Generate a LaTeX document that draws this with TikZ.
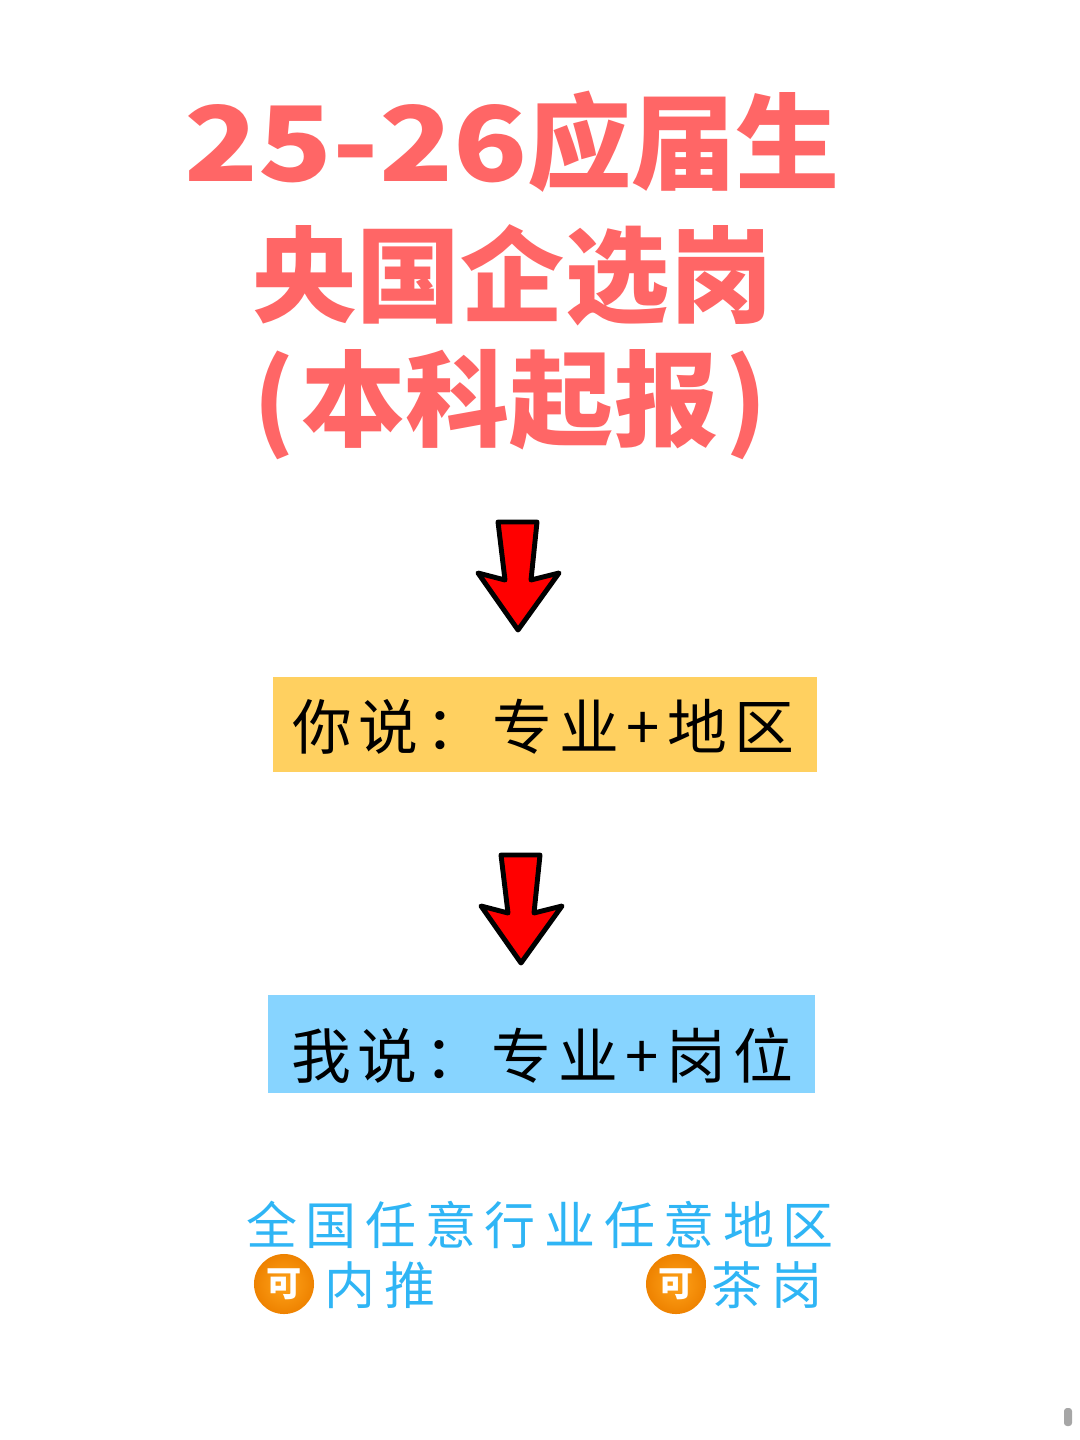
\documentclass[tikz,border=0pt]{standalone}
\usepackage{fontspec}
\setmainfont{Noto Sans CJK SC}
\newfontfamily\titlefont{Noto Sans CJK SC Black}
\newfontfamily\bodyfont[LetterSpace=12]{Noto Sans CJK SC}
\newfontfamily\notefont[LetterSpace=17]{Noto Sans CJK SC}
\definecolor{titlered}{HTML}{FF6666}
\definecolor{boxyellow}{HTML}{FFD060}
\definecolor{boxblue}{HTML}{87D4FF}
\definecolor{noteblue}{HTML}{2FB5F5}
\definecolor{badgecentre}{HTML}{FFA31A}
\definecolor{badgeedge}{HTML}{EE8200}
\tikzset{
    titleline/.style={text=titlered, inner sep=0pt, font=\titlefont\fontsize{29.6}{29.6}\selectfont},
    bodyline/.style={text=black, inner sep=0pt, font=\bodyfont\fontsize{17}{17}\selectfont},
    noteline/.style={text=noteblue, inner sep=0pt, font=\notefont\fontsize{14.5}{14.5}\selectfont},
    canbadge/.style={circle, minimum size=0.6cm, inner sep=0pt, text=white,
        inner color=badgecentre, outer color=badgeedge,
        font=\bfseries\fontsize{10}{10}\selectfont},
    redarrow/.pic={
        \draw[fill=red, line width=1.4pt, line join=round]
            (-20,-53) -- (19,-53) -- (13,5) -- (41,-2) -- (0,55)
            -- (-40,-2) -- (-13,5) -- cycle;
    }
}
\begin{document}
\begin{tikzpicture}[x=0.01cm, y=-0.01cm]
\useasboundingbox (0,0) rectangle (1080,1440);

\node[titleline] (title1) at (512,142) {\scalebox{1.17}[1]{25-26}应届生};
\node[titleline] (title2) at (513,275) {央国企选岗};
\node[titleline] (title3) at (510,405) {(\hspace{2pt}本科起报\hspace{2pt})};

\pic at (518,575) {redarrow};
\node[fill=boxyellow, minimum width=5.44cm, minimum height=0.95cm] (boxyou) at (545,724.5) {};
\node[bodyline] (textyou) at (543,727) {你说：专业+地区};

\pic at (521,908) {redarrow};
\node[fill=boxblue, minimum width=5.47cm, minimum height=0.98cm] (boxme) at (541.5,1044) {};
\node[bodyline] (textme) at (542,1056) {我说：专业+岗位};

\node[noteline] (notetop) at (540,1225) {全国任意行业任意地区};
\node[canbadge] (badgeleft) at (284,1284) {可};
\node[noteline, anchor=west] (noteleft) at (324,1285) {内推};
\node[canbadge] (badgeright) at (676,1284) {可};
\node[noteline, anchor=west] (noteright) at (711,1285) {茶岗};

% scroll thumb
\fill[gray!70, rounded corners=0.03cm] (1064,1408) rectangle (1072,1426);
\end{tikzpicture}
\end{document}
